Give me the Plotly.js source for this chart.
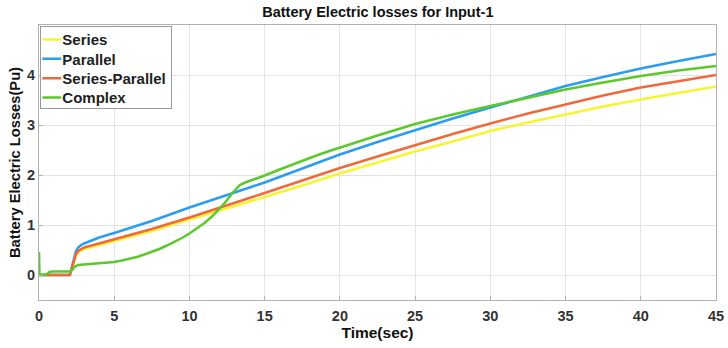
<!DOCTYPE html>
<html>
<head>
<meta charset="utf-8">
<script src="https://cdn.plot.ly/plotly-3.0.1.min.js"></script>
<style>html,body{margin:0;padding:0;background:#fff;}#chart{width:728px;height:348px;}</style>
</head>
<body>
<div id="chart"></div>
<script>
const seriesNames = ["Series", "Parallel", "Series-Parallel", "Complex"];
const seriesColors = ["#f7f431", "#2a9df0", "#f0693a", "#5cc82c"];

const tSeries = [0, 2.05, 2.15, 2.3, 2.45, 2.6, 2.8, 3, 3.5, 4, 5, 6, 7.5, 10, 12.5, 15, 17.5, 20, 22.5, 25, 27.5, 30, 32.5, 35, 37.5, 40, 42.5, 45];
const ySeries = [0, 0, 0.09, 0.26, 0.38, 0.45, 0.49, 0.52, 0.56, 0.6, 0.68, 0.76, 0.88, 1.11, 1.33, 1.56, 1.79, 2.03, 2.25, 2.47, 2.67, 2.88, 3.05, 3.21, 3.37, 3.51, 3.64, 3.77];

const tParallel = [0, 2.05, 2.15, 2.3, 2.45, 2.6, 2.8, 3, 3.5, 4, 5, 6, 7.5, 10, 12.5, 15, 17.5, 20, 22.5, 25, 27.5, 30, 32.5, 35, 37.5, 40, 42.5, 45];
const yParallel = [0, 0, 0.12, 0.33, 0.47, 0.55, 0.6, 0.63, 0.69, 0.75, 0.84, 0.93, 1.08, 1.35, 1.6, 1.85, 2.13, 2.41, 2.66, 2.9, 3.13, 3.35, 3.57, 3.78, 3.96, 4.13, 4.28, 4.42];

const tSeriesParallel = [0, 2.05, 2.15, 2.3, 2.45, 2.6, 2.8, 3, 3.5, 4, 5, 6, 7.5, 10, 12.5, 15, 17.5, 20, 22.5, 25, 27.5, 30, 32.5, 35, 37.5, 40, 42.5, 45];
const ySeriesParallel = [0, 0, 0.1, 0.28, 0.41, 0.48, 0.52, 0.55, 0.59, 0.63, 0.71, 0.79, 0.92, 1.15, 1.39, 1.64, 1.89, 2.14, 2.37, 2.6, 2.82, 3.03, 3.23, 3.41, 3.59, 3.75, 3.88, 4.0];

const tComplex = [0, 0.03, 0.5, 0.7, 0.9, 2.05, 2.2, 2.4, 2.6, 3, 4, 5, 5.5, 6, 6.5, 7, 7.5, 8, 8.5, 9, 9.5, 10, 10.5, 11, 11.5, 12, 12.4, 12.8, 13.1, 13.35, 13.7, 14, 14.5, 15, 16, 17, 18, 19, 20, 21, 22.5, 25, 27.5, 30, 32.5, 35, 37.5, 40, 42.5, 45];
const yComplex = [0.46, 0, 0.01, 0.06, 0.07, 0.07, 0.1, 0.17, 0.2, 0.21, 0.23, 0.26, 0.29, 0.32, 0.36, 0.41, 0.46, 0.52, 0.59, 0.66, 0.74, 0.83, 0.93, 1.04, 1.17, 1.32, 1.46, 1.62, 1.73, 1.8, 1.85, 1.88, 1.93, 1.99, 2.11, 2.23, 2.34, 2.45, 2.55, 2.65, 2.79, 3.02, 3.21, 3.38, 3.55, 3.71, 3.85, 3.98, 4.09, 4.18];

const xTicks = [0, 5, 10, 15, 20, 25, 30, 35, 40, 45];
const yTicks = [0, 1, 2, 3, 4];

const xs = [tSeries, tParallel, tSeriesParallel, tComplex];
const ys = [ySeries, yParallel, ySeriesParallel, yComplex];

const traces = seriesNames.map((n, i) => ({
  x: xs[i], y: ys[i], name: n, type: "scatter", mode: "lines",
  line: {color: seriesColors[i], width: 2.5, shape: "linear"}
}));

const fontFam = "Liberation Sans, Arial, sans-serif";
const layout = {
  width: 728, height: 348,
  margin: {l: 39, r: 12, t: 25, b: 48},
  paper_bgcolor: "#fff", plot_bgcolor: "#fff",
  font: {family: fontFam, size: 14, color: "#222", weight: "bold"},
  title: {text: "Battery Electric losses for Input-1", x: 0.519, xanchor: "center", y: 0.965, yanchor: "middle",
          font: {family: fontFam, size: 14.5, color: "#111", weight: "bold"}},
  xaxis: {
    range: [0, 45], tickvals: xTicks, ticktext: xTicks.map(String),
    showgrid: true, gridcolor: "#e3e3e3", zeroline: false,
    showline: true, linecolor: "#b0b0b0", mirror: true, linewidth: 1,
    ticks: "inside", ticklen: 4, tickcolor: "#b0b0b0",
    ticklabelstandoff: 3,
    tickfont: {family: fontFam, size: 14.5, color: "#333", weight: "bold"},
    title: {text: "Time(sec)", standoff: 3, font: {family: fontFam, size: 15.5, color: "#111", weight: "bold"}}
  },
  yaxis: {
    range: [-0.5, 5], tickvals: yTicks, ticktext: yTicks.map(String),
    showgrid: true, gridcolor: "#e3e3e3", zeroline: false,
    showline: true, linecolor: "#b0b0b0", mirror: true, linewidth: 1,
    ticks: "inside", ticklen: 4, tickcolor: "#b0b0b0",
    tickfont: {family: fontFam, size: 14.5, color: "#333", weight: "bold"},
    title: {text: "Battery Electric Losses(Pu)", standoff: 2, font: {family: fontFam, size: 14.7, color: "#111", weight: "bold"}}
  },
  legend: {x: 0.002, y: 0.995, xanchor: "left", yanchor: "top",
           bgcolor: "#fff", bordercolor: "#999", borderwidth: 1,
           font: {family: fontFam, size: 15, color: "#222", weight: "bold"},
           itemwidth: 30, tracegroupgap: 0}
};

Plotly.newPlot("chart", traces, layout, {displayModeBar: false, staticPlot: true}).then(gd => {
  // compact legend like the reference: short line samples, tighter rows
  const leg = gd.querySelector(".legend");
  if (!leg) return;
  let maxW = 0;
  const rowGap = 19.4, firstRow = 13;
  const rows = leg.querySelectorAll(".traces");
  rows.forEach((tr, i) => {
    tr.setAttribute("transform", "translate(0," + (firstRow + i * rowGap) + ")");
    const p = tr.querySelector("path.js-line");
    if (p) p.setAttribute("d", "M2,0h19");
    const t = tr.querySelector("text.legendtext");
    if (t) {
      t.setAttribute("x", "22");
      maxW = Math.max(maxW, t.getComputedTextLength());
    }
  });
  const bg = leg.querySelector("rect.bg");
  if (bg && maxW > 0) {
    bg.setAttribute("width", String(Math.ceil(22 + maxW + 5)));
    bg.setAttribute("height", String(Math.round(firstRow + (rows.length - 1) * rowGap + 11)));
  }
});
</script>
</body>
</html>
